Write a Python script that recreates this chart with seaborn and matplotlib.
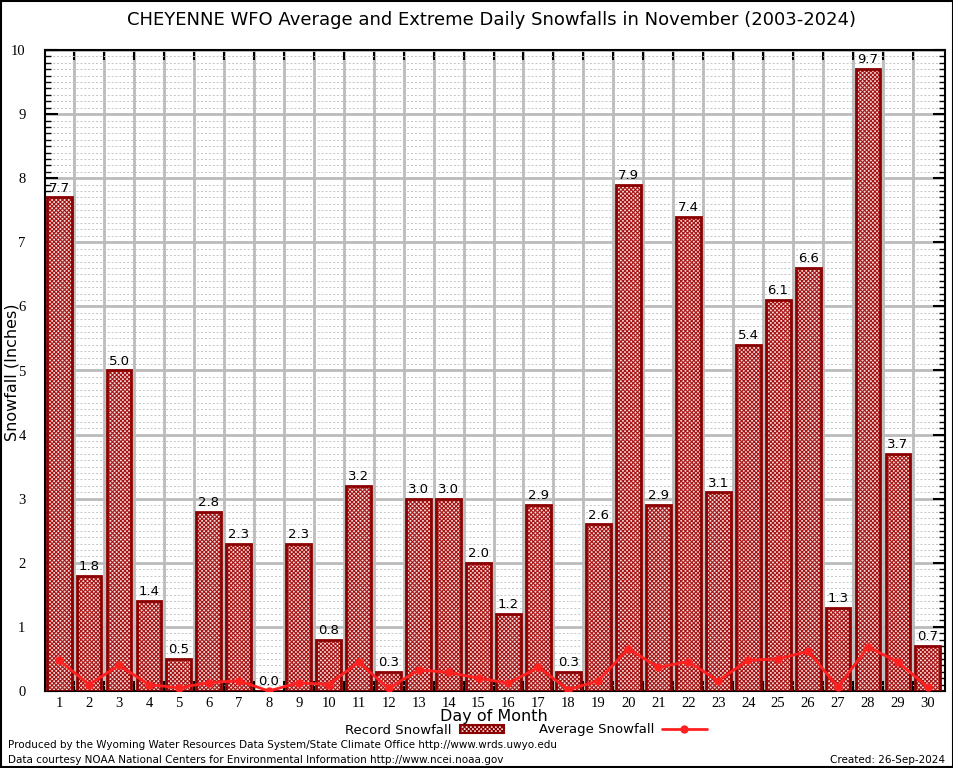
import matplotlib
matplotlib.use("Agg")
import matplotlib.pyplot as plt
from matplotlib.ticker import MultipleLocator, FixedLocator
from matplotlib.patches import Rectangle
from matplotlib.lines import Line2D
import pandas as pd
import seaborn as sns

# Data
days = list(range(1, 31))
record = [7.7, 1.8, 5.0, 1.4, 0.5, 2.8, 2.3, 0.0, 2.3, 0.8,
          3.2, 0.3, 3.0, 3.0, 2.0, 1.2, 2.9, 0.3, 2.6, 7.9,
          2.9, 7.4, 3.1, 5.4, 6.1, 6.6, 1.3, 9.7, 3.7, 0.7]
average = [0.48, 0.10, 0.40, 0.10, 0.05, 0.13, 0.16, 0.00, 0.13, 0.10,
           0.45, 0.04, 0.33, 0.29, 0.20, 0.12, 0.37, 0.02, 0.16, 0.66,
           0.37, 0.46, 0.16, 0.48, 0.50, 0.62, 0.06, 0.69, 0.45, 0.06]

df = pd.DataFrame({"Day": days, "Record": record, "Average": average})

sns.set_style("white")
plt.rcParams["font.family"] = ["DejaVu Sans"]
plt.rcParams["hatch.linewidth"] = 0.8
plt.rcParams["text.color"] = "black"
plt.rcParams["xtick.color"] = "black"
plt.rcParams["ytick.color"] = "black"
plt.rcParams["xtick.labelcolor"] = "black"
plt.rcParams["ytick.labelcolor"] = "black"

fig = plt.figure(figsize=(9.54, 7.68), dpi=100)
ax = fig.add_axes([45 / 954, 1 - 691 / 768, 900 / 954, 641 / 768])

fill = "#f2dede"
hatch_col = "#a81414"
hatch = "xxxxxxxx"
sns.barplot(data=df, x="Day", y="Record", native_scale=True, width=0.83,
            color="white", edgecolor=hatch_col, linewidth=0, ax=ax, zorder=2)
for p in ax.patches:
    p.set_hatch(hatch)
    p.set_facecolor(fill)
# dark outline on top of the hatch
for p in list(ax.patches):
    ax.add_patch(Rectangle(p.get_xy(), p.get_width(), p.get_height(),
                           fill=False, edgecolor="#8b0000", linewidth=2, zorder=3))

ax.bar_label(ax.containers[0], fmt="%.1f", fontsize=9.5, padding=2, color="black")

sns.lineplot(data=df, x="Day", y="Average", color="#ff2020", linewidth=2,
             marker="o", markersize=6, markeredgewidth=0, ax=ax, zorder=4)

ax.set_xlim(0.53, 30.57)
ax.set_ylim(0, 10)

# ticks: labels at day centres, tick marks on boundaries
ax.xaxis.set_major_locator(FixedLocator(days))
ax.xaxis.set_minor_locator(FixedLocator([d + 0.5 for d in days[:-1]]))
ax.yaxis.set_major_locator(MultipleLocator(1))
ax.yaxis.set_minor_locator(MultipleLocator(0.1))
ax.tick_params(axis="x", which="major", length=0, pad=4)
ax.tick_params(axis="x", which="minor", length=7, width=1.5, direction="in",
               top=True, bottom=True, color="black")
ax.tick_params(axis="y", which="major", length=9, width=1.5, direction="in",
               left=True, right=True, pad=14)
ax.tick_params(axis="y", which="minor", length=4, width=1, direction="in",
               left=True, right=True)
for lab in ax.get_xticklabels() + ax.get_yticklabels():
    lab.set_fontfamily("Liberation Serif")
    lab.set_fontsize(10.5)

ax.grid(True, which="minor", axis="x", color="#bbbbbb", linewidth=2, zorder=0)
ax.grid(True, which="major", axis="y", color="#bbbbbb", linewidth=2, zorder=0)
ax.grid(True, which="minor", axis="y", color="#c4c4c4", linewidth=0.7,
        linestyle=(0, (2, 2)), zorder=0)
ax.set_axisbelow(True)
for s in ax.spines.values():
    s.set_color("black")
    s.set_linewidth(1.5)

ax.set_xlabel("")
ax.set_ylabel("")
fig.text(494 / 954, 1 - 717 / 768, "Day of Month", ha="center", va="center", fontsize=11.5)
fig.text(12 / 954, 1 - 372 / 768, "Snowfall (Inches)", ha="center", va="center",
         rotation=90, fontsize=11.5)
fig.text(0.515, 1 - 20 / 768, "CHEYENNE WFO Average and Extreme Daily Snowfalls in November (2003-2024)",
         ha="center", va="center", fontsize=13)

rec_handle = Rectangle((0, 0), 1, 1, facecolor=fill, edgecolor="#8b0000",
                       hatch=hatch, linewidth=1.5)
avg_handle = Line2D([], [], color="#ff2020", linewidth=2, marker="o",
                    markersize=6, markeredgewidth=0)
fig.legend([rec_handle, avg_handle], ["Record Snowfall", "Average Snowfall"],
           loc="center", bbox_to_anchor=(526 / 954, 1 - 730 / 768), ncol=2,
           frameon=False, markerfirst=False, fontsize=9.5, handlelength=3.4,
           handleheight=0.5, columnspacing=2.6, handletextpad=0.6)

fig.text(8 / 954, 1 - 745 / 768,
         "Produced by the Wyoming Water Resources Data System/State Climate Office http://www.wrds.uwyo.edu",
         ha="left", va="center", fontsize=7.5)
fig.text(8 / 954, 1 - 760 / 768,
         "Data courtesy NOAA National Centers for Environmental Information http://www.ncei.noaa.gov",
         ha="left", va="center", fontsize=7.5)
fig.text(945 / 954, 1 - 760 / 768, "Created: 26-Sep-2024",
         ha="right", va="center", fontsize=7.5)

fig.patches.append(Rectangle((0.001, 0.001), 0.998, 0.998, transform=fig.transFigure,
                             fill=False, edgecolor="black", linewidth=1.5))

fig.savefig("out.png", dpi=100)
